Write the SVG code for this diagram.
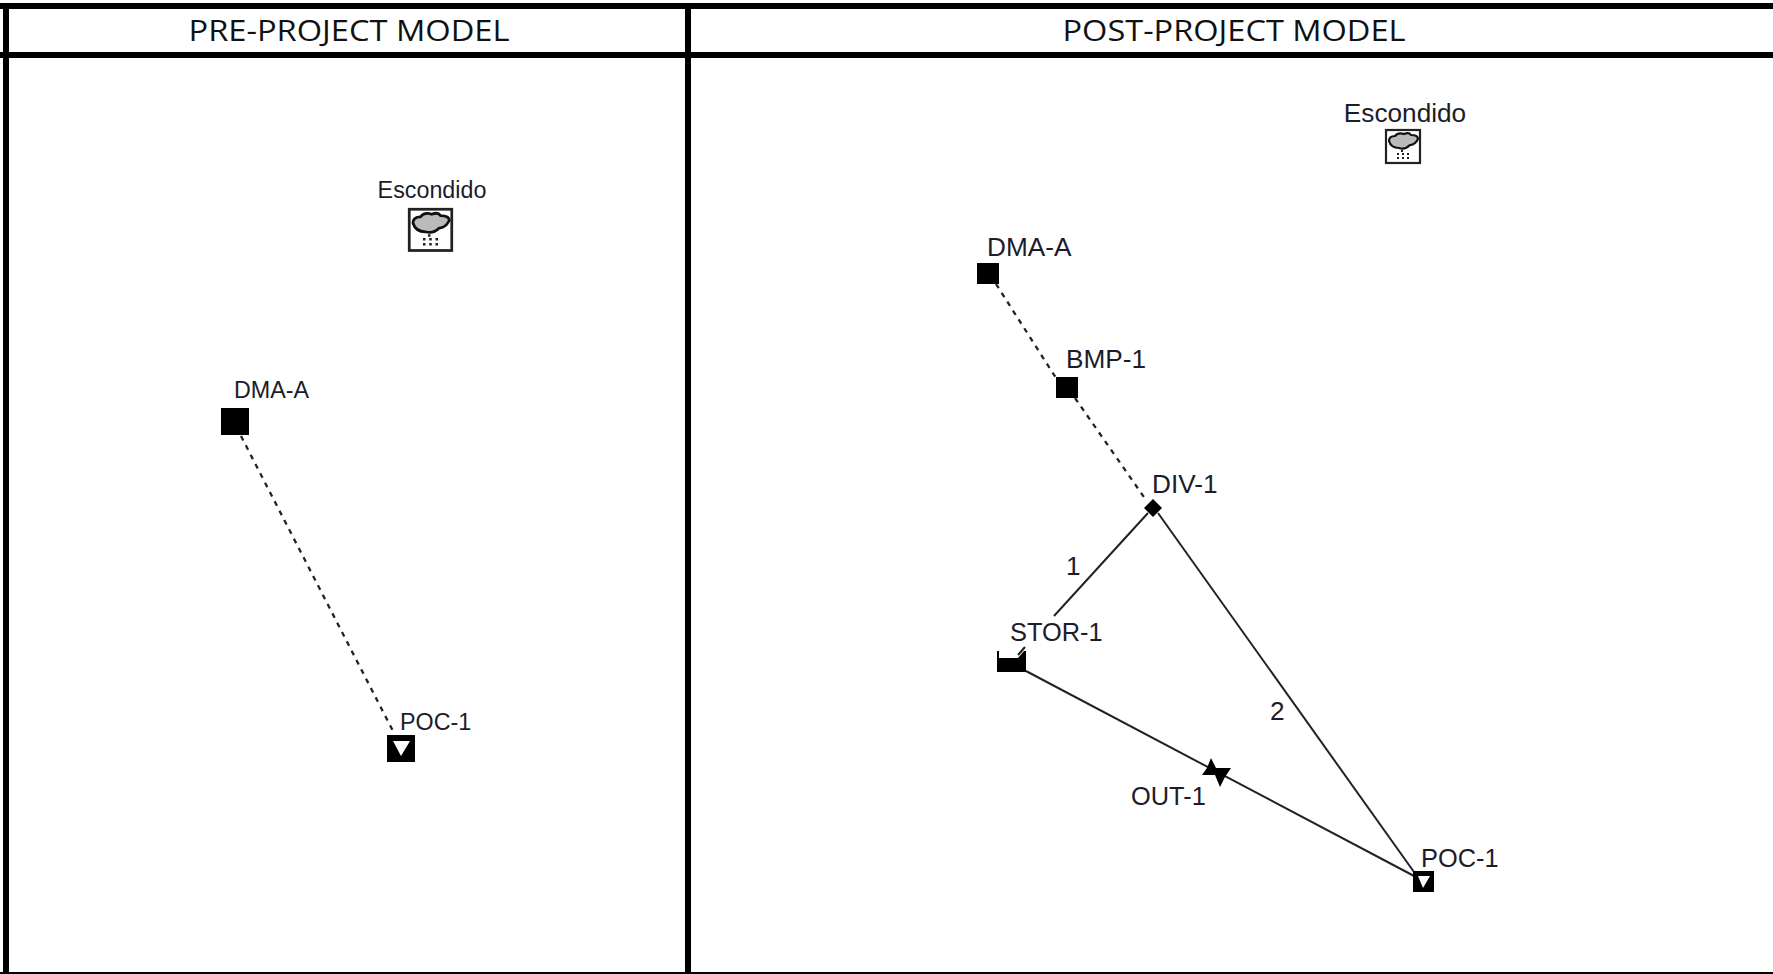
<svg xmlns="http://www.w3.org/2000/svg" width="1773" height="974" viewBox="0 0 1773 974">
<style>
.hd{font-family:"Open Sans","Liberation Sans",sans-serif;font-size:30px;fill:#111;text-anchor:middle}
.lb{font-family:"Liberation Sans",Arial,sans-serif;fill:#1c1c2a}
.a{font-size:23.3px}.b{font-size:26.2px}.c{font-size:25.4px}
.grid{fill:#000}
.dash{fill:none;stroke:#222;stroke-width:2.3;stroke-dasharray:5 5.5}
.solid{fill:none;stroke:#222;stroke-width:2}
.blk{fill:#000}
.wht{fill:#fff}
</style>
<defs>
<g id="rain">
<rect x="1" y="1" width="34" height="33" fill="#fff" stroke="#222" stroke-width="2.2"/>
<path d="M4 12 Q4 7 10 7 Q13 3 19 5 Q24 3 26 6 Q33 6 33 10 Q30 16 25 16 Q20 21 14 19 Q6 19 4 12Z" fill="#bbb" stroke="#111" stroke-width="2.2"/>
<path d="M17 21v2M12 25h2M17 25h2M22 25h2M12 29h2M17 29h2M22 29h2" stroke="#222" stroke-width="2" fill="none"/>
</g>
</defs>
<rect x="0" y="0" width="1773" height="974" fill="#fff"/>
<g id="frame" class="grid">
<rect x="0" y="3" width="1773" height="6"/>
<rect x="0" y="52" width="1773" height="6"/>
<rect x="3" y="3" width="6" height="971"/>
<rect x="685" y="3" width="6" height="971"/>
<rect x="0" y="972" width="1773" height="2"/>
</g>
<g id="headers">
<text class="hd" x="349" y="41" textLength="321" lengthAdjust="spacingAndGlyphs">PRE-PROJECT MODEL</text>
<text class="hd" x="1234" y="41" textLength="343" lengthAdjust="spacingAndGlyphs">POST-PROJECT MODEL</text>
</g>
<g id="connectors">
<path class="dash" d="M241 436L394 733"/>
<path class="dash" d="M996 284L1056 378"/>
<path class="dash" d="M1075 398L1146 500"/>
<path class="solid" d="M1148 513L1054 616"/>
<path class="solid" d="M1025 647L1018 655"/>
<path class="solid" d="M1158 513L1414 872"/>
<path class="solid" d="M1026 671L1416 877"/>
</g>
<g id="pre-escondido">
<text class="lb a" x="432" y="198" text-anchor="middle">Escondido</text>
<use href="#rain" transform="translate(408 208) scale(1.25)"/>
</g>
<g id="pre-dma-a">
<rect class="blk" x="221" y="408" width="28" height="27"/>
<text class="lb a" x="234" y="398">DMA-A</text>
</g>
<g id="pre-poc-1">
<rect class="blk" x="387" y="735" width="28" height="27"/>
<path class="wht" d="M393 741H410L401 756Z"/>
<text class="lb a" x="400" y="730">POC-1</text>
</g>
<g id="post-escondido">
<text class="lb b" x="1405" y="122" text-anchor="middle">Escondido</text>
<use href="#rain" transform="translate(1385 129)"/>
</g>
<g id="post-dma-a">
<rect class="blk" x="977" y="263" width="22" height="21"/>
<text class="lb b" x="987" y="256">DMA-A</text>
</g>
<g id="post-bmp-1">
<rect class="blk" x="1056" y="377" width="22" height="21"/>
<text class="lb b" x="1066" y="368">BMP-1</text>
</g>
<g id="post-div-1">
<path class="blk" d="M1153 499L1162 508L1153 517L1144 508Z"/>
<text class="lb b" x="1152" y="493">DIV-1</text>
</g>
<g id="post-stor-1">
<path class="blk" d="M997 651H999V658H1018L1024 651H1026V672H997Z"/>
<text class="lb c" x="1010" y="641">STOR-1</text>
</g>
<g id="post-out-1">
<path class="blk" d="M1211 758L1216 768L1231 768L1225 777L1220 787L1215 775L1202 775L1207 768Z"/>
<text class="lb c" x="1131" y="805">OUT-1</text>
</g>
<g id="post-poc-1">
<rect class="blk" x="1413" y="871" width="21" height="21"/>
<path class="wht" d="M1418 876H1430L1423 888Z"/>
<text class="lb c" x="1421" y="867">POC-1</text>
</g>
<g id="link-labels">
<text class="lb b" x="1066" y="575">1</text>
<text class="lb b" x="1270" y="720">2</text>
</g>
</svg>
